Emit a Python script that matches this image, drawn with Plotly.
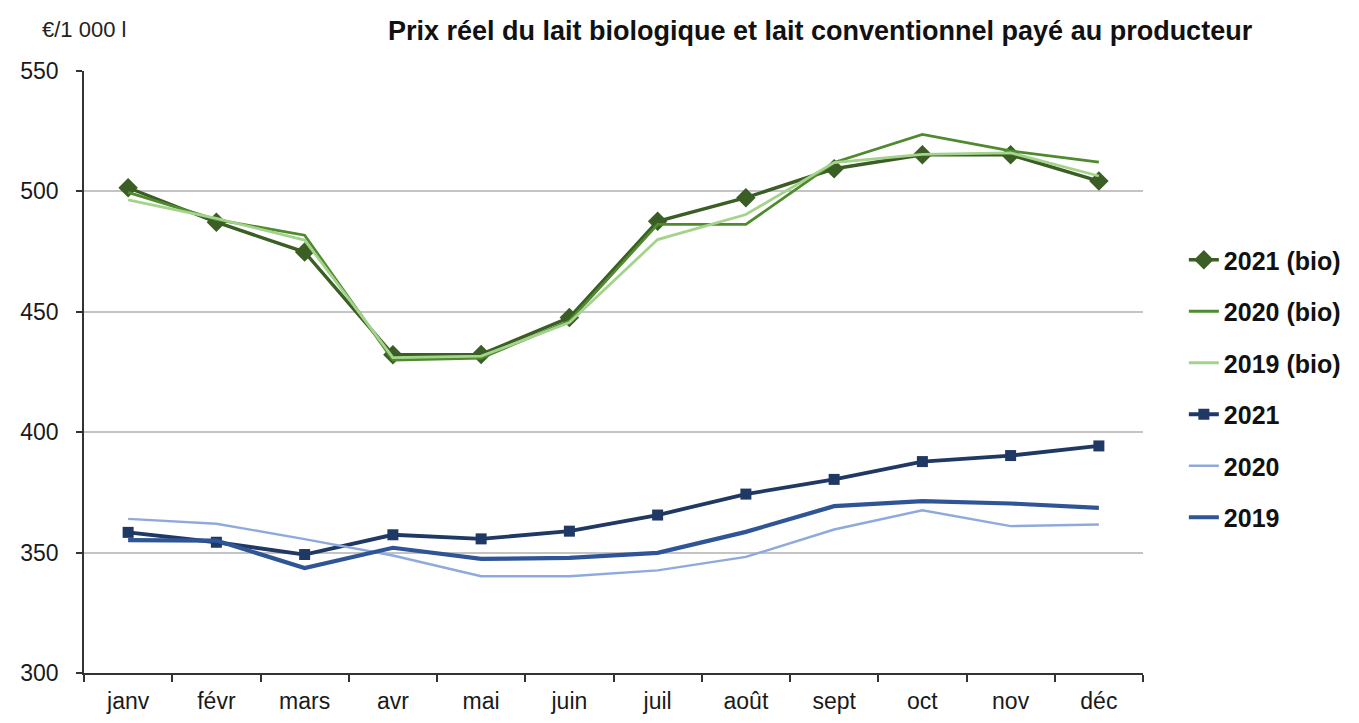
import plotly.graph_objects as go

months = ["janv", "févr", "mars", "avr", "mai", "juin", "juil", "août", "sept", "oct", "nov", "déc"]

bio_2021 = [501.5, 487.2, 474.8, 432.2, 432.3, 447.6, 487.6, 497.4, 509.4, 515.2, 515.2, 504.3]
bio_2020 = [499.6, 488.3, 481.8, 430.0, 430.8, 446.2, 486.3, 486.3, 512.0, 523.7, 516.8, 512.2]
bio_2019 = [496.5, 488.8, 479.8, 431.0, 431.6, 445.5, 480.0, 490.4, 512.0, 515.4, 516.0, 506.4]
conv_2021 = [358.4, 354.3, 349.2, 357.4, 355.7, 358.9, 365.6, 374.3, 380.4, 387.8, 390.3, 394.3]
conv_2020 = [364.0, 362.0, 355.6, 348.8, 340.2, 340.2, 342.6, 348.2, 359.6, 367.6, 361.0, 361.7]
conv_2019 = [355.2, 355.0, 343.6, 352.0, 347.4, 347.8, 349.9, 358.6, 369.3, 371.4, 370.4, 368.6]

series = [
    ("2021 (bio)", bio_2021, "#3b5e24", 3.4, dict(symbol="diamond", size=15)),
    ("2020 (bio)", bio_2020, "#4f8a2f", 2.8, None),
    ("2019 (bio)", bio_2019, "#a4d38c", 2.8, None),
    ("2021", conv_2021, "#1f3864", 3.8, dict(symbol="square", size=11)),
    ("2020", conv_2020, "#8eaadc", 2.4, None),
    ("2019", conv_2019, "#2f5597", 4.2, None),
]

fig = go.Figure()
for i, (name, vals, color, width, marker) in enumerate(series):
    kw = dict(mode="lines")
    if marker:
        kw["mode"] = "lines+markers"
        kw["marker"] = dict(color=color, **marker)
    fig.add_trace(go.Scatter(
        x=months, y=vals, name=name, legendgroup=f"g{i}",
        line=dict(color=color, width=width), **kw))

# page has an 8px body margin: plot area spans x 80..1143, y 71..673 on screen
L, R, T, B = 72, 224, 63, 58
pw, ph = 1359 - L - R, 723 - T - B
def px(xp): return (xp - 8 - L) / pw
def py(yp): return 1 - (yp - 8 - T) / ph

fig.update_layout(
    width=1359, height=723,
    margin=dict(l=L, r=R, t=T, b=B),
    plot_bgcolor="white", paper_bgcolor="white",
    font=dict(family="Liberation Sans, Arial, sans-serif", size=23, color="#1a1a1a"),
    showlegend=True,
    legend=dict(x=px(1184), y=py(237), xanchor="left", yanchor="top",
                font=dict(size=25, color="#111111", family="Liberation Sans, Arial, sans-serif", weight="bold"),
                tracegroupgap=16, bgcolor="rgba(0,0,0,0)"),
    annotations=[
        dict(text="<b>Prix réel du lait biologique et lait conventionnel payé au producteur</b>",
             x=px(819), y=py(31), xref="paper", yref="paper", showarrow=False,
             xanchor="center", yanchor="middle",
             font=dict(size=27, color="#111111")),
        dict(text="€/1 000 l", x=px(36), y=py(29), xref="paper", yref="paper", showarrow=False,
             xanchor="left", yanchor="middle",
             font=dict(size=22, color="#222222")),
    ],
)

fig.update_xaxes(
    type="category", range=[-0.5, 11.5],
    showline=True, linecolor="#333333", linewidth=1.5,
    ticks="outside", tickson="boundaries", ticklen=7, tickcolor="#333333", tickwidth=1.5,
    showgrid=False, tickfont=dict(size=23), ticklabelstandoff=7,
)
fig.update_yaxes(
    range=[300, 550], dtick=50, tick0=300,
    showline=True, linecolor="#333333", linewidth=1.5,
    ticks="outside", ticklen=6, tickcolor="#333333", tickwidth=1.5,
    showgrid=True, gridcolor="#c4c4c4", gridwidth=1.5,
    zeroline=False, tickfont=dict(size=23), ticklabelstandoff=13,
)

fig.write_html("out.html")
